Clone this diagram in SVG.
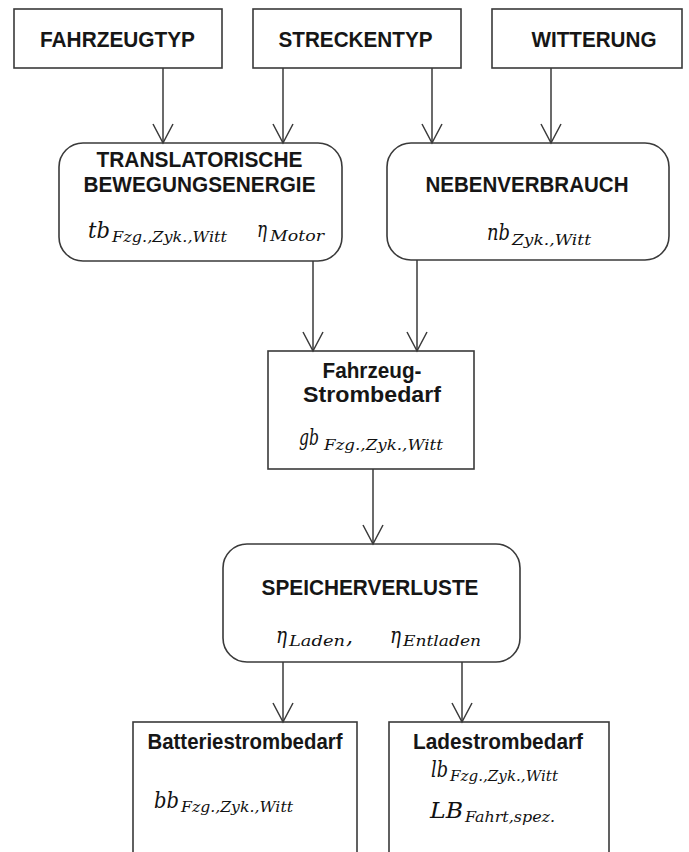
<svg xmlns="http://www.w3.org/2000/svg" width="689" height="852" viewBox="0 0 689 852">
  <style>
    .box { fill: #ffffff; stroke: #3a3a3a; stroke-width: 1.6; }
    .edge { fill: none; stroke: #3a3a3a; stroke-width: 1.5; marker-end: url(#vhead); }
    .head { font-family: "Liberation Sans", Arial, sans-serif; font-weight: bold; font-size: 21.5px; fill: #161616; text-anchor: middle; }
    .m { font-family: "DejaVu Serif", "Liberation Serif", serif; font-style: italic; font-size: 22px; fill: #111111; }
    .s { font-family: "DejaVu Serif", "Liberation Serif", serif; font-style: italic; font-size: 15.5px; fill: #111111; }
  </style>
  <defs>
    <marker id="vhead" viewBox="-21 -12 23 24" refX="0" refY="0" markerWidth="23" markerHeight="24" markerUnits="userSpaceOnUse" orient="auto">
      <path d="M-19,-10 L0,0 L-19,10" fill="none" stroke="#3a3a3a" stroke-width="1.5"/>
    </marker>
  </defs>

  <rect width="689" height="852" fill="#ffffff"/>

  <!-- input factors -->
  <g id="fahrzeugtyp">
    <rect class="box" x="14" y="9" width="208" height="59"/>
    <text class="head" x="117.5" y="47" textLength="155" lengthAdjust="spacingAndGlyphs">FAHRZEUGTYP</text>
  </g>
  <g id="streckentyp">
    <rect class="box" x="253" y="9" width="208" height="59"/>
    <text class="head" x="355.5" y="47" textLength="154" lengthAdjust="spacingAndGlyphs">STRECKENTYP</text>
  </g>
  <g id="witterung">
    <rect class="box" x="492" y="9" width="190" height="59"/>
    <text class="head" x="594" y="47" textLength="125" lengthAdjust="spacingAndGlyphs">WITTERUNG</text>
  </g>

  <!-- energy components -->
  <g id="translatorisch">
    <rect class="box" x="59" y="143" width="283" height="118" rx="24" ry="24"/>
    <text class="head" x="199.5" y="167" textLength="206" lengthAdjust="spacingAndGlyphs">TRANSLATORISCHE</text>
    <text class="head" x="199.5" y="192" textLength="232" lengthAdjust="spacingAndGlyphs">BEWEGUNGSENERGIE</text>
    <text class="m" x="88" y="238" textLength="22" lengthAdjust="spacingAndGlyphs">tb</text>
    <text class="s" x="112" y="242" textLength="115" lengthAdjust="spacingAndGlyphs">Fzg.,Zyk.,Witt</text>
    <text class="m" x="257" y="237" textLength="10" lengthAdjust="spacingAndGlyphs">η</text>
    <text class="s" x="270" y="241" textLength="54" lengthAdjust="spacingAndGlyphs">Motor</text>
  </g>
  <g id="nebenverbrauch">
    <rect class="box" x="387" y="143" width="282" height="117" rx="24" ry="24"/>
    <text class="head" x="527" y="192" textLength="203" lengthAdjust="spacingAndGlyphs">NEBENVERBRAUCH</text>
    <text class="m" x="487" y="240" textLength="23" lengthAdjust="spacingAndGlyphs">nb</text>
    <text class="s" x="512" y="245" textLength="79" lengthAdjust="spacingAndGlyphs">Zyk.,Witt</text>
  </g>

  <!-- vehicle demand -->
  <g id="fahrzeugstrombedarf">
    <rect class="box" x="268" y="351" width="206" height="118"/>
    <text class="head" x="372" y="378" textLength="99" lengthAdjust="spacingAndGlyphs">Fahrzeug-</text>
    <text class="head" x="372" y="402" textLength="138" lengthAdjust="spacingAndGlyphs">Strombedarf</text>
    <text class="m" x="299" y="445" textLength="20" lengthAdjust="spacingAndGlyphs">gb</text>
    <text class="s" x="324" y="450" textLength="119" lengthAdjust="spacingAndGlyphs">Fzg.,Zyk.,Witt</text>
  </g>

  <!-- storage losses -->
  <g id="speicherverluste">
    <rect class="box" x="223" y="544" width="297" height="118" rx="24" ry="24"/>
    <text class="head" x="370" y="595" textLength="217" lengthAdjust="spacingAndGlyphs">SPEICHERVERLUSTE</text>
    <text class="m" x="276" y="643" textLength="11" lengthAdjust="spacingAndGlyphs">η</text>
    <text class="s" x="289" y="646" textLength="56" lengthAdjust="spacingAndGlyphs">Laden</text>
    <text class="m" x="346" y="644">,</text>
    <text class="m" x="390" y="643" textLength="11" lengthAdjust="spacingAndGlyphs">η</text>
    <text class="s" x="403" y="646" textLength="78" lengthAdjust="spacingAndGlyphs">Entladen</text>
  </g>

  <!-- resulting demands -->
  <g id="batteriestrombedarf">
    <rect class="box" x="133" y="722" width="224" height="150"/>
    <text class="head" x="245" y="749" textLength="195" lengthAdjust="spacingAndGlyphs">Batteriestrombedarf</text>
    <text class="m" x="154" y="808" textLength="25" lengthAdjust="spacingAndGlyphs">bb</text>
    <text class="s" x="181" y="812" textLength="112" lengthAdjust="spacingAndGlyphs">Fzg.,Zyk.,Witt</text>
  </g>
  <g id="ladestrombedarf">
    <rect class="box" x="389" y="722" width="220" height="150"/>
    <text class="head" x="498" y="749" textLength="170" lengthAdjust="spacingAndGlyphs">Ladestrombedarf</text>
    <text class="m" x="431" y="777" textLength="17" lengthAdjust="spacingAndGlyphs">lb</text>
    <text class="s" x="450" y="781" textLength="108" lengthAdjust="spacingAndGlyphs">Fzg.,Zyk.,Witt</text>
    <text class="m" x="430" y="818" textLength="33" lengthAdjust="spacingAndGlyphs">LB</text>
    <text class="s" x="465" y="822" textLength="90" lengthAdjust="spacingAndGlyphs">Fahrt,spez.</text>
  </g>

  <!-- connectors -->
  <g id="connectors">
    <line class="edge" x1="163" y1="68" x2="163" y2="143"/>
    <line class="edge" x1="283" y1="68" x2="283" y2="143"/>
    <line class="edge" x1="432" y1="68" x2="432" y2="143"/>
    <line class="edge" x1="551" y1="68" x2="551" y2="143"/>
    <line class="edge" x1="313" y1="261" x2="313" y2="351"/>
    <line class="edge" x1="417" y1="260" x2="417" y2="351"/>
    <line class="edge" x1="373" y1="469" x2="373" y2="544"/>
    <line class="edge" x1="283" y1="662" x2="283" y2="722"/>
    <line class="edge" x1="462" y1="662" x2="462" y2="722"/>
  </g>
</svg>
